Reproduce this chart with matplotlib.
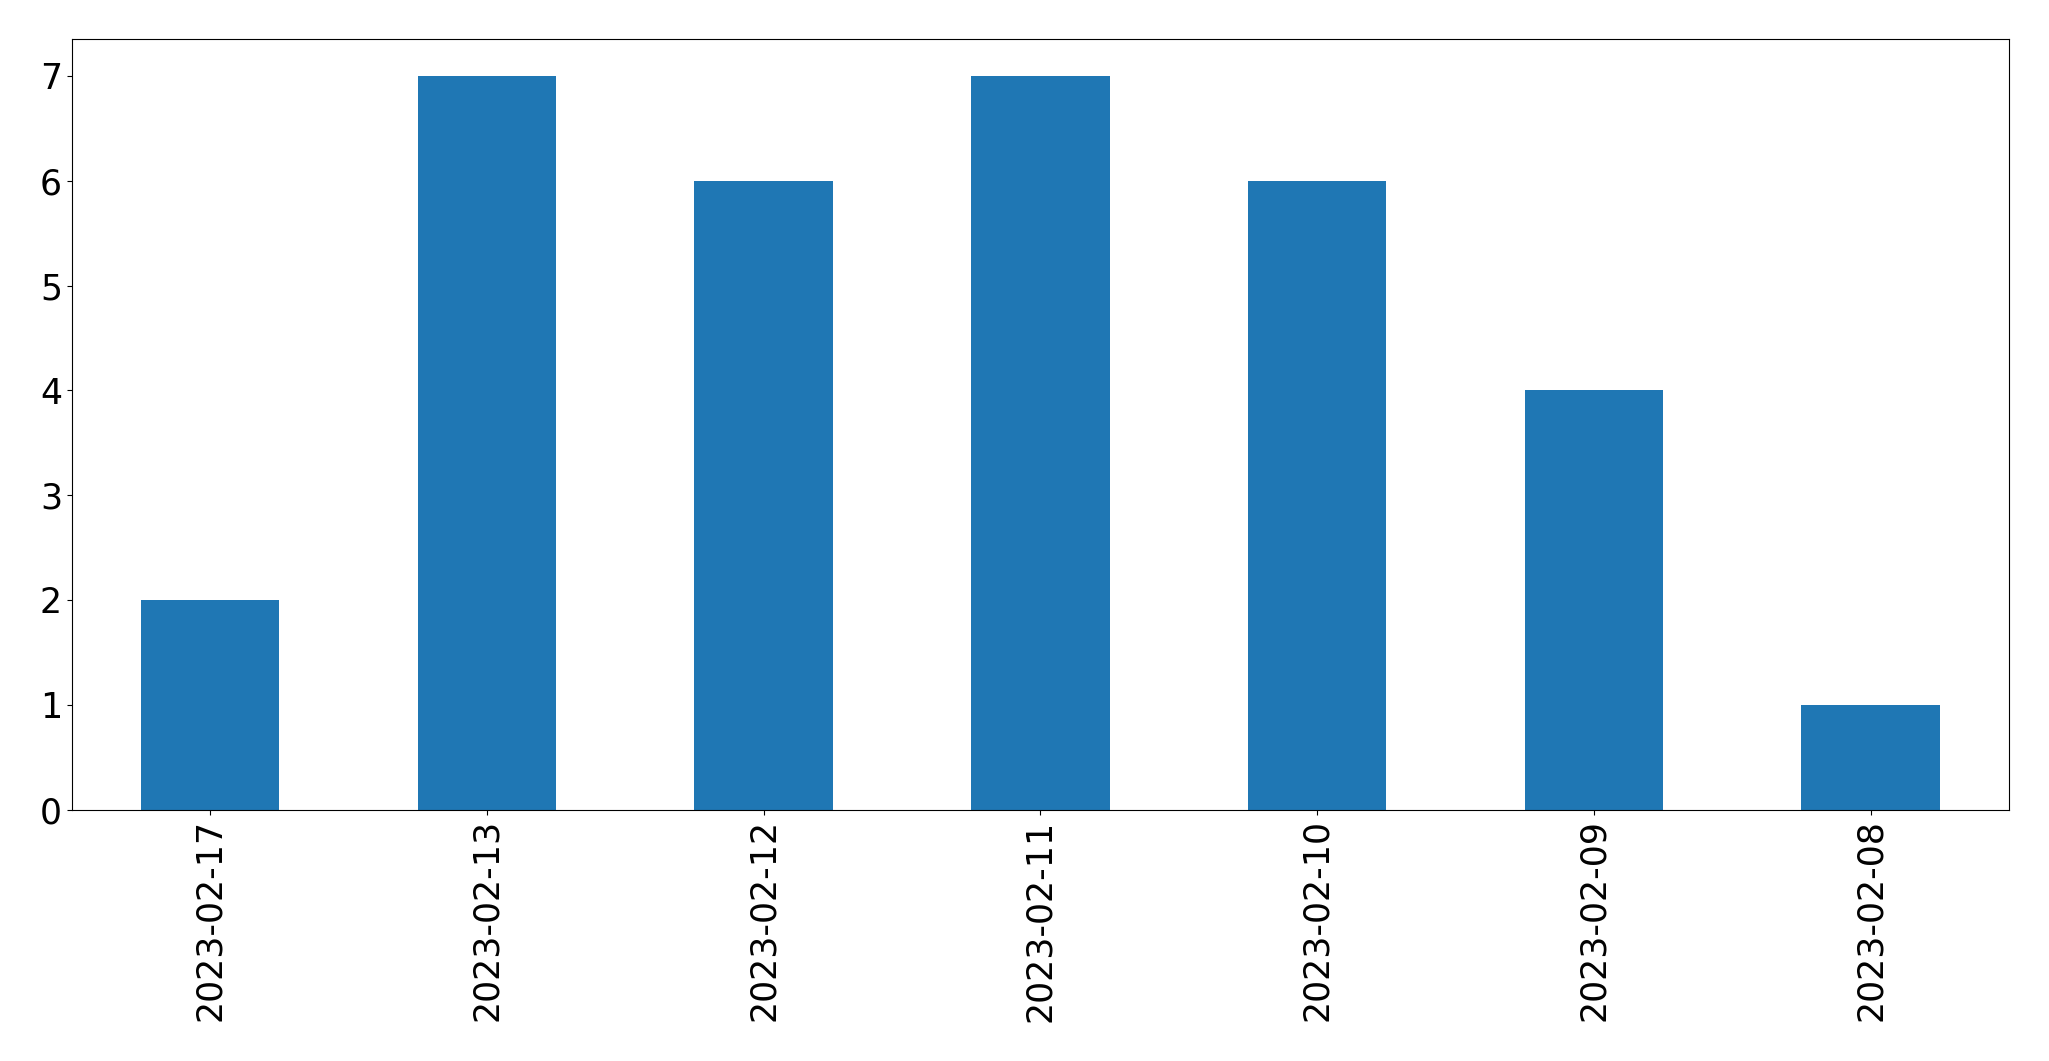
import matplotlib
matplotlib.use("Agg")
import matplotlib.pyplot as plt

dates = ["2023-02-17", "2023-02-13", "2023-02-12", "2023-02-11",
         "2023-02-10", "2023-02-09", "2023-02-08"]
counts = [2, 7, 6, 7, 6, 4, 1]

fig, ax = plt.subplots(figsize=(20.49, 10.61), dpi=100)
ax.bar(range(len(dates)), counts, width=0.5, color="#1f77b4")
ax.set_xlim(-0.5, len(dates) - 0.5)
ax.set_ylim(0, max(counts) * 1.05)
ax.set_xticks(range(len(dates)))
ax.set_xticklabels(dates, rotation=90)
ax.tick_params(labelsize=25)

fig.subplots_adjust(left=0.035, right=0.9805, top=0.963, bottom=0.237)
fig.savefig("out.png", dpi=100)
